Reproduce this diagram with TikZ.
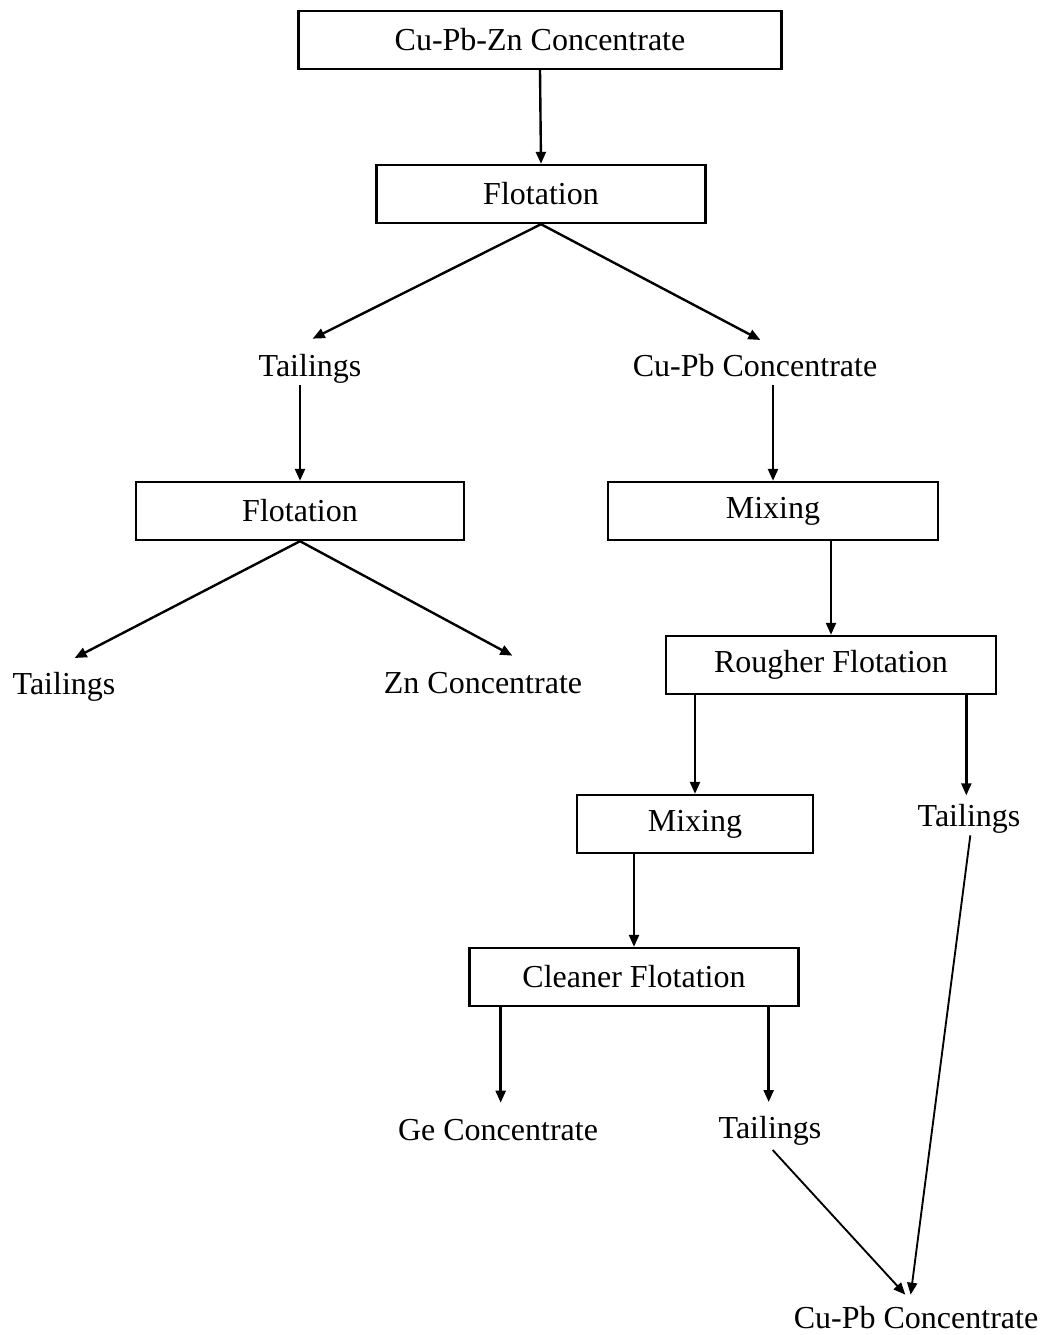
\documentclass[tikz,border=0pt]{standalone}
\usepackage{fontspec}
\setmainfont{Liberation Serif}
\usetikzlibrary{arrows.meta}

\tikzstyle{stage} = [draw,line width=1.8pt,minimum height=43.5pt,inner sep=0pt,font=\fontsize{24}{28}\selectfont]
\tikzstyle{product} = [inner sep=0pt,anchor=base,font=\fontsize{24}{28}\selectfont]
\tikzstyle{flow} = [line width=1.8pt,-{Triangle[length=9pt,width=7.5pt]}]
\tikzstyle{thinflow} = [line width=1.4pt,-{Triangle[length=9pt,width=7.5pt]}]

\begin{document}
\begin{tikzpicture}[x=0.75pt,y=-0.75pt]
	\useasboundingbox (0,0) rectangle (1045,1335);

	\node[stage,minimum width=362pt] (feed) at (540,40) {Cu-Pb-Zn Concentrate};
	\node[stage,minimum width=247pt] (flot1) at (541,194) {Flotation};
	
	\node[product] (tail1) at (310,376) {Tailings};
	\node[product] (cupb1) at (755,376) {Cu-Pb Concentrate};
	
	\draw[flow] (feed.south) -- (flot1.north);
	\draw[flow] (flot1.south) -- ([xshift=2pt,yshift=28pt]tail1.base);
	\draw[flow] (flot1.south) -- ([xshift=4pt,yshift=27pt]cupb1.base);
	
	\node[stage,minimum width=246pt] (flot2) at (300,511) {Flotation};
	\node[stage,minimum width=247.5pt] (mix1) at (773,511) {Mixing};
	
	\draw[flow] ([yshift=-7pt]tail1.base -| flot2.north) -- (flot2.north);
	\draw[flow] ([yshift=-7pt]cupb1.base -| mix1.north) -- (mix1.north);
	
	\node[product] (tail2) at (64,694) {Tailings};
	\node[product] (zn) at (483,693) {Zn Concentrate};
	
	\draw[flow] (flot2.south) -- ([xshift=8pt,yshift=27pt]tail2.base);
	\draw[flow] (flot2.south) -- ([xshift=22pt,yshift=28pt]zn.base);
	
	\node[stage,minimum width=247.5pt] (rough) at (831,665) {Rougher Flotation};
	\node[stage,minimum width=177pt] (mix2) at (695,824) {Mixing};
	\node[product] (tail3) at (969,826) {Tailings};
	
	\draw[flow] (mix1.south -| rough.north) -- (rough.north);
	\draw[flow] (rough.south -| mix2.north) -- (mix2.north);
	\draw[flow] ([xshift=-2pt]rough.south -| tail3.base) -- ([xshift=-2pt,yshift=23pt]tail3.base);
	
	\node[stage,minimum width=247pt] (clean) at (634,977) {Cleaner Flotation};
	
	\draw[flow] (mix2.south -| clean.north) -- (clean.north);
	
	\node[product] (ge) at (498,1140) {Ge Concentrate};
	\node[product] (tail4) at (770,1138) {Tailings};
	\node[product] (cupb2) at (916,1328) {Cu-Pb Concentrate};
	
	\draw[flow] ([xshift=2pt]clean.south -| ge.base) -- ([xshift=2pt,yshift=28pt]ge.base);
	\draw[flow] ([xshift=-1pt]clean.south -| tail4.base) -- ([xshift=-1pt,yshift=27pt]tail4.base);
	
	\draw[thinflow] ([xshift=2pt,yshift=-9pt]tail4.base) -- ([xshift=-8pt,yshift=25pt]cupb2.base);
	\draw[thinflow] ([xshift=1pt,yshift=-7pt]tail3.base) -- ([xshift=-4pt,yshift=25pt]cupb2.base);
\end{tikzpicture}
\end{document}
